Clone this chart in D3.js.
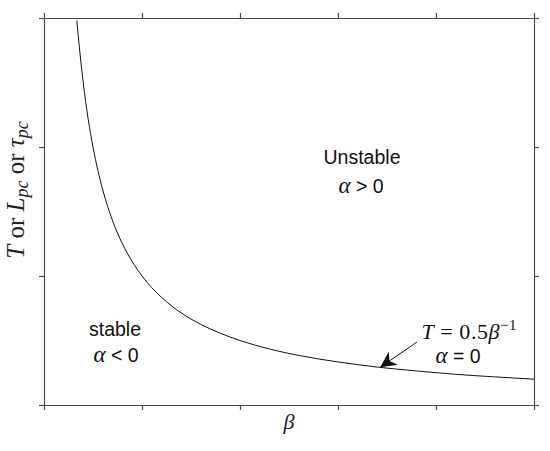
<!DOCTYPE html>
<html><head><meta charset="utf-8">
<script src="https://cdn.jsdelivr.net/npm/d3@7"></script>
<style>body{margin:0;background:#fff}</style>
</head><body>
<svg id="c" width="550" height="451"></svg>
<script>
// data (curve T = 0.5/beta)
const betaValues = [0.335,0.36,0.4,0.45,0.5,0.55,0.6,0.7,0.8,0.9,1.0,1.2,1.4,1.6,1.8,2.0,2.3,2.6,3.0,3.4,3.8,4.2,4.6,5.0];
const tValues    = [1.49,1.39,1.25,1.11,1.0,0.909,0.833,0.714,0.625,0.556,0.5,0.417,0.357,0.3125,0.278,0.25,0.217,0.192,0.167,0.147,0.132,0.119,0.109,0.1];
const xTicks = [0,1,2,3,4,5];
const yTicks = [0,0.5,1,1.5];
const arrowTarget = [3.43, 0.146];

const svg = d3.select("#c");
const L=44,R=534,T=18,B=405;
const x = d3.scaleLinear().domain([0,5]).range([L,R]);
const y = d3.scaleLinear().domain([0,1.5]).range([B,T]);
const axcol = "#4a4a4a";

function styleAx(g){ g.selectAll("path,line").attr("stroke",axcol).attr("stroke-width",1.2); g.selectAll("text").remove(); }
svg.append("g").attr("transform",`translate(0,${B})`).call(d3.axisBottom(x).tickValues(xTicks).tickSize(5).tickSizeOuter(0).tickFormat("")).call(styleAx);
svg.append("g").attr("transform",`translate(0,${T})`).call(d3.axisTop(x).tickValues(xTicks).tickSize(5).tickSizeOuter(0).tickFormat("")).call(styleAx);
svg.append("g").attr("transform",`translate(${L},0)`).call(d3.axisLeft(y).tickValues(yTicks).tickSize(5).tickSizeOuter(0).tickFormat("")).call(styleAx);
svg.append("g").attr("transform",`translate(${R},0)`).call(d3.axisRight(y).tickValues(yTicks).tickSize(5).tickSizeOuter(0).tickFormat("")).call(styleAx);

const pts = betaValues.map((b,i)=>[b,tValues[i]]);
svg.append("path").datum(pts)
  .attr("d", d3.line().x(d=>x(d[0])).y(d=>y(d[1])).curve(d3.curveMonotoneX))
  .attr("fill","none").attr("stroke","#111").attr("stroke-width",1);

const serif = "'Liberation Serif','DejaVu Serif',serif";
const sans = "'Liberation Sans',Arial,sans-serif";

// labels
function sansText(tx,ty,str){ svg.append("text").attr("x",tx).attr("y",ty).attr("text-anchor","middle").attr("font-family",sans).attr("font-size",19.5).attr("fill","#111").text(str); }
function alphaText(tx,ty,rest){
  const t = svg.append("text").attr("x",tx).attr("y",ty).attr("text-anchor","middle").attr("fill","#111").attr("font-size",19.5);
  t.append("tspan").attr("font-family",serif).attr("font-style","italic").attr("font-size",23).text("α");
  t.append("tspan").attr("font-family",sans).text(rest);
}
sansText(362,164,"Unstable");
alphaText(361,193," > 0");
sansText(115,336,"stable");
alphaText(116,362," < 0");
alphaText(458,363," = 0");

// T = 0.5 beta^-1
const eq = svg.append("text").attr("x",469).attr("y",339).attr("text-anchor","middle").attr("font-family",serif).attr("font-size",22).attr("fill","#111")
  .attr("textLength",95).attr("lengthAdjust","spacing");
eq.append("tspan").attr("font-style","italic").text("T");
eq.append("tspan").text(" = 0.5");
eq.append("tspan").attr("font-style","italic").text("β");
eq.append("tspan").attr("font-size",15).attr("dy",-9).text("−1");

// arrow
const defs = svg.append("defs");
defs.append("marker").attr("id","ah").attr("viewBox","0 0 10 10").attr("refX",10).attr("refY",5)
  .attr("markerWidth",16).attr("markerHeight",16).attr("markerUnits","userSpaceOnUse").attr("orient","auto")
  .append("path").attr("d","M0,0 L10,5 L0,10 L3,5 Z").attr("fill","#111");
svg.append("line").attr("x1",417).attr("y1",342).attr("x2",x(arrowTarget[0])).attr("y2",y(arrowTarget[1]))
  .attr("stroke","#111").attr("stroke-width",1).attr("marker-end","url(#ah)");

// axis labels
svg.append("text").attr("x",289).attr("y",429).attr("text-anchor","middle").attr("font-family",serif).attr("font-style","italic").attr("font-size",22).attr("fill","#222").text("β");
const yl = svg.append("text").attr("transform","translate(24,190) rotate(-90)").attr("text-anchor","middle").attr("font-family",serif).attr("font-size",25).attr("fill","#222");
yl.append("tspan").attr("font-style","italic").text("T");
yl.append("tspan").text(" or ");
yl.append("tspan").attr("font-style","italic").text("L");
yl.append("tspan").attr("font-style","italic").attr("font-size",18).attr("dy",4).text("pc");
yl.append("tspan").attr("dy",-4).text(" or ");
yl.append("tspan").attr("font-style","italic").text("τ");
yl.append("tspan").attr("font-style","italic").attr("font-size",18).attr("dy",4).text("pc");
</script>
</body></html>
